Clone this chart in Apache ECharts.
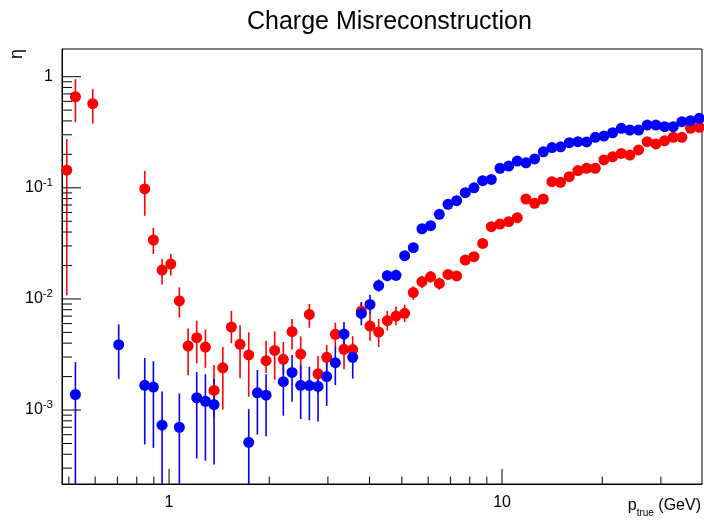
<!DOCTYPE html>
<html lang="en">
<head>
    <meta charset="UTF-8">
    <script src="https://cdn.jsdelivr.net/npm/echarts@6/dist/echarts.min.js"></script>
    <title>Charge Misreconstruction</title>
</head>
<body>
    <style>
        html, body, #main {
            margin: 0;
            width: 704px;
            height: 527px;
            background: #fff;
        }
    </style>
    <div id="main"></div>
    <script>
        // log-uniform p bins (GeV), 74 bins
        var pBins = [
            0.493, 0.5234, 0.5556, 0.59, 0.6263, 0.665, 0.706, 0.7496, 0.796, 0.8453,
            0.8975, 0.9528, 1.012, 1.074, 1.141, 1.211, 1.286, 1.365, 1.45, 1.539,
            1.634, 1.735, 1.842, 1.956, 2.076, 2.204, 2.341, 2.485, 2.639, 2.802,
            2.975, 3.158, 3.353, 3.561, 3.78, 4.013, 4.261, 4.523, 4.804, 5.1,
            5.415, 5.749, 6.103, 6.482, 6.882, 7.306, 7.756, 8.235, 8.746, 9.285,
            9.858, 10.47, 11.11, 11.8, 12.53, 13.3, 14.12, 14.99, 15.92, 16.9,
            17.95, 19.06, 20.23, 21.48, 22.81, 24.21, 25.71, 27.29, 28.98, 30.77,
            32.67, 34.68, 36.82, 39.11
        ];

        var redEta = [
            0.144, 0.66, null, 0.571, null, null, null, null, null, 0.0976,
            0.0339, 0.0182, 0.0206, 0.0096, 0.00377, 0.00448, 0.00369, 0.0015, 0.0024, 0.00559,
            0.0039, 0.00313, null, 0.00278, 0.00344, 0.00286, 0.00507, 0.00319, 0.00726, 0.00212,
            0.00298, 0.0048, 0.00352, 0.0035, 0.00778, 0.0057, 0.00504, 0.00637, 0.00701, 0.00742,
            0.0114, 0.0143, 0.0158, 0.0138, 0.0166, 0.0161, 0.0224, 0.024, 0.0316, 0.0447,
            0.0472, 0.0496, 0.0538, 0.0793, 0.0725, 0.0793, 0.1135, 0.112, 0.126, 0.143,
            0.15, 0.15, 0.178, 0.19, 0.204, 0.197, 0.219, 0.26, 0.248, 0.265,
            0.285, 0.285, 0.343, 0.35
        ];
        var redLo = [
            0.0108, 0.389, null, 0.378, null, null, null, null, null, 0.056,
            0.0254, 0.0135, 0.0162, 0.0068, 0.00206, 0.00263, 0.0024, 0.00087, 0.00101, 0.004,
            0.00193, 0.00132, null, 0.00215, 0.00188, 0.0021, 0.0035, 0.00193, 0.0055, 0.0014,
            0.00215, 0.0037, 0.00233, 0.00283, 0.0065, 0.0042, 0.0037, 0.0052, 0.0058, 0.0062,
            0.0098, 0.0125, 0.014, 0.0121, 0.015, 0.0145, 0.0205, 0.022, 0.0293, 0.0418,
            0.0443, 0.0467, 0.0508, 0.0755, 0.069, 0.0757, 0.109, 0.1075, 0.121, 0.138,
            0.145, 0.145, 0.172, 0.184, 0.198, 0.191, 0.213, 0.253, 0.241, 0.258,
            0.278, 0.278, 0.335, 0.342
        ];
        var redHi = [
            0.275, 0.95, null, 0.77, null, null, null, null, null, 0.142,
            0.0437, 0.0229, 0.0254, 0.0127, 0.00543, 0.00637, 0.0053, 0.00254, 0.0037, 0.0078,
            0.0058, 0.005, null, 0.0042, 0.0051, 0.0041, 0.0066, 0.0046, 0.009, 0.00306,
            0.00385, 0.0061, 0.0044, 0.00462, 0.0094, 0.0074, 0.0066, 0.0078, 0.0085, 0.0089,
            0.013, 0.0162, 0.0178, 0.0156, 0.0183, 0.0178, 0.0244, 0.026, 0.034, 0.0477,
            0.0502, 0.0526, 0.0569, 0.0832, 0.076, 0.083, 0.118, 0.1165, 0.131, 0.148,
            0.155, 0.155, 0.184, 0.196, 0.21, 0.203, 0.225, 0.267, 0.255, 0.272,
            0.292, 0.292, 0.351, 0.358
        ];

        var blueEta = [
            null, 0.00138, null, null, null, null, 0.00387, null, null, 0.00167,
            0.00161, 0.00073, null, 0.0007, null, 0.00129, 0.0012, 0.00112, null, null,
            null, 0.000512, 0.00143, 0.00136, null, 0.0018, 0.00218, 0.00167, 0.00166, 0.00163,
            0.002, 0.00267, 0.00483, 0.00298, 0.0074, 0.00893, 0.0132, 0.0162, 0.0163, 0.0245,
            0.0289, 0.0428, 0.0456, 0.0577, 0.071, 0.0766, 0.0904, 0.1, 0.116, 0.119,
            0.15, 0.157, 0.174, 0.168, 0.182, 0.211, 0.23, 0.234, 0.255, 0.26,
            0.259, 0.285, 0.292, 0.313, 0.343, 0.331, 0.331, 0.367, 0.367, 0.355,
            0.355, 0.394, 0.402, 0.422
        ];
        // 0.0001 = bar runs off the bottom of the frame
        var blueLo = [
            null, 0.0001, null, null, null, null, 0.0019, null, null, 0.00049,
            0.000457, 0.0001, null, 0.0001, null, 0.000367, 0.00035, 0.000324, null, null,
            null, 0.0001, 0.0006, 0.00058, null, 0.00089, 0.00119, 0.00083, 0.00081, 0.00079,
            0.00109, 0.00168, 0.00352, 0.00192, 0.0058, 0.0073, 0.0116, 0.0144, 0.0145, 0.0225,
            0.0267, 0.0403, 0.043, 0.0548, 0.0677, 0.0732, 0.0868, 0.0963, 0.112, 0.115,
            0.146, 0.153, 0.17, 0.164, 0.178, 0.206, 0.225, 0.229, 0.25, 0.255,
            0.254, 0.28, 0.287, 0.308, 0.337, 0.326, 0.326, 0.361, 0.361, 0.35,
            0.35, 0.388, 0.396, 0.416
        ];
        var blueHi = [
            null, 0.0027, null, null, null, null, 0.0059, null, null, 0.00294,
            0.00275, 0.00147, null, 0.00141, null, 0.0022, 0.0021, 0.0019, null, null,
            null, 0.00102, 0.0023, 0.0021, null, 0.00272, 0.00313, 0.00254, 0.00245, 0.00229,
            0.00283, 0.00372, 0.00619, 0.00395, 0.0093, 0.0109, 0.015, 0.0181, 0.0183, 0.0266,
            0.0312, 0.0453, 0.0482, 0.0606, 0.0743, 0.08, 0.094, 0.104, 0.12, 0.123,
            0.154, 0.161, 0.178, 0.172, 0.186, 0.216, 0.235, 0.239, 0.26, 0.265,
            0.264, 0.29, 0.297, 0.318, 0.349, 0.336, 0.336, 0.373, 0.373, 0.36,
            0.36, 0.4, 0.408, 0.428
        ];

        var xLabelValues = [1, 10];
        var xMajorTicks = [1, 10];
        var xMinorTicks = [0.5, 0.6, 0.7, 0.8, 0.9, 2, 3, 4, 5, 6, 7, 8, 9, 20, 30];
        var yLabelValues = [0.001, 0.01, 0.1, 1];
        var yMajorTicks = [0.001, 0.01, 0.1, 1];
        var yMinorTicks = [
            0.0003, 0.0004, 0.0005, 0.0006, 0.0007, 0.0008, 0.0009,
            0.002, 0.003, 0.004, 0.005, 0.006, 0.007, 0.008, 0.009,
            0.02, 0.03, 0.04, 0.05, 0.06, 0.07, 0.08, 0.09,
            0.2, 0.3, 0.4, 0.5, 0.6, 0.7, 0.8, 0.9
        ];

        var X_MIN = 0.477, X_MAX = 39.86;
        var Y_MIN = 2.16e-4, Y_MAX = 1.775;
        var FONT = 'Liberation Sans';

        function points(eta) {
            var d = [];
            for (var i = 0; i < pBins.length; i++) {
                if (eta[i] != null) d.push([pBins[i], eta[i]]);
            }
            return d;
        }
        function bars(lo, hi) {
            var d = [];
            for (var i = 0; i < pBins.length; i++) {
                if (lo[i] != null) d.push([pBins[i], lo[i], hi[i]]);
            }
            return d;
        }

        function errorSeries(lo, hi, color) {
            return {
                type: 'custom',
                silent: true,
                data: bars(lo, hi),
                encode: { x: 0, y: [1, 2] },
                renderItem: function (params, api) {
                    var a = api.coord([api.value(0), Math.max(api.value(1), Y_MIN)]);
                    var b = api.coord([api.value(0), Math.min(api.value(2), Y_MAX)]);
                    return {
                        type: 'line',
                        shape: { x1: a[0], y1: a[1], x2: b[0], y2: b[1] },
                        style: { stroke: color, lineWidth: 1.6 }
                    };
                }
            };
        }

        // ticks drawn inward from the frame, ROOT style
        function xTickSeries(values, len) {
            return {
                type: 'custom',
                silent: true,
                z: 5,
                data: values.map(function (v) { return [v, Y_MIN]; }),
                renderItem: function (params, api) {
                    var p = api.coord([api.value(0), Y_MIN]);
                    return {
                        type: 'line',
                        shape: { x1: p[0], y1: p[1], x2: p[0], y2: p[1] - len },
                        style: { stroke: '#000', lineWidth: 1 }
                    };
                }
            };
        }
        function yTickSeries(values, len) {
            return {
                type: 'custom',
                silent: true,
                z: 5,
                data: values.map(function (v) { return [X_MIN, v]; }),
                renderItem: function (params, api) {
                    var p = api.coord([X_MIN, api.value(1)]);
                    return {
                        type: 'line',
                        shape: { x1: p[0], y1: p[1], x2: p[0] + len, y2: p[1] },
                        style: { stroke: '#000', lineWidth: 1 }
                    };
                }
            };
        }

        var chart = echarts.init(document.getElementById('main'));
        chart.setOption({
            animation: false,
            backgroundColor: '#fff',
            title: {
                text: 'Charge Misreconstruction',
                left: 242,
                top: 5,
                textStyle: { fontFamily: FONT, fontSize: 25, fontWeight: 'normal', color: '#000' }
            },
            grid: {
                left: 62, right: 2, top: 49, bottom: 43,
                show: true, borderColor: '#000', borderWidth: 1
            },
            xAxis: {
                type: 'log',
                logBase: 10,
                min: X_MIN,
                max: X_MAX,
                axisLine: { show: true, lineStyle: { color: '#000' } },
                axisTick: { show: false },
                minorTick: { show: false },
                splitLine: { show: false },
                axisLabel: {
                    customValues: xLabelValues,
                    margin: 11,
                    fontFamily: FONT,
                    fontSize: 16,
                    color: '#000',
                    formatter: function (v) { return String(Math.round(v)); }
                }
            },
            yAxis: {
                type: 'log',
                logBase: 10,
                min: Y_MIN,
                max: Y_MAX,
                axisLine: { show: true, lineStyle: { color: '#000' } },
                axisTick: { show: false },
                minorTick: { show: false },
                splitLine: { show: false },
                axisLabel: {
                    customValues: yLabelValues,
                    margin: 9,
                    color: '#000',
                    formatter: function (v) {
                        var e = Math.round(Math.log(v) / Math.LN10);
                        if (e === 0) return '{b|1}';
                        return '{b|10}{s|' + e + '}';
                    },
                    rich: {
                        b: { fontFamily: FONT, fontSize: 16, lineHeight: 22, color: '#000' },
                        s: { fontFamily: FONT, fontSize: 11.5, lineHeight: 13, verticalAlign: 'top', color: '#000' }
                    }
                }
            },
            graphic: [
                {
                    type: 'text',
                    x: 17,
                    y: 54,
                    rotation: Math.PI / 2,
                    style: {
                        text: 'η',
                        font: '18px "Liberation Sans"',
                        fill: '#000',
                        align: 'center',
                        verticalAlign: 'middle'
                    }
                },
                {
                    type: 'text',
                    x: 701,
                    y: 513,
                    style: {
                        text: '{p|p}{s|true}{p| (GeV)}',
                        align: 'right',
                        verticalAlign: 'middle',
                        rich: {
                            p: { fontFamily: FONT, fontSize: 16, lineHeight: 16, verticalAlign: 'top', fill: '#000', color: '#000' },
                            s: { fontFamily: FONT, fontSize: 10, lineHeight: 30, fill: '#000', color: '#000' }
                        }
                    }
                }
            ],
            series: [
                errorSeries(redLo, redHi, '#ff0000'),
                {
                    type: 'scatter',
                    symbol: 'circle',
                    symbolSize: 11,
                    itemStyle: { color: '#ff0000', opacity: 1 },
                    data: points(redEta)
                },
                errorSeries(blueLo, blueHi, '#0000ff'),
                {
                    type: 'scatter',
                    symbol: 'circle',
                    symbolSize: 11,
                    itemStyle: { color: '#0000ff', opacity: 1 },
                    data: points(blueEta)
                },
                xTickSeries(xMajorTicks, 15),
                xTickSeries(xMinorTicks, 7.5),
                yTickSeries(yMajorTicks, 19),
                yTickSeries(yMinorTicks, 10)
            ]
        });
    </script>
</body>
</html>
